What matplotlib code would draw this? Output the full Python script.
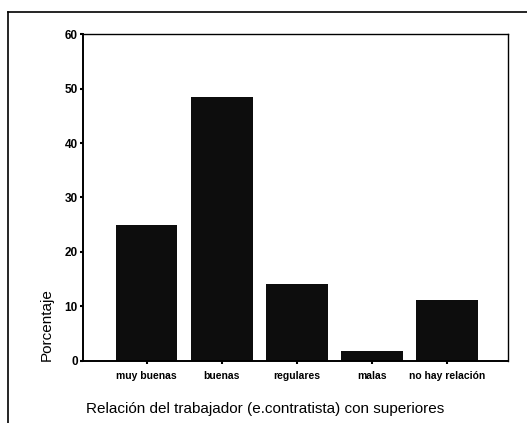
import matplotlib
matplotlib.use('Agg')
import matplotlib.pyplot as plt
from matplotlib.lines import Line2D

categories = ['muy buenas', 'buenas', 'regulares', 'malas', 'no hay relación']
percentages = [24.9, 48.4, 14.2, 1.9, 11.2]
y_ticks = [0, 10, 20, 30, 40, 50, 60]

plt.rcParams['font.family'] = ['Liberation Sans', 'DejaVu Sans']

fig = plt.figure(figsize=(5.27, 4.23), dpi=100)
ax = fig.add_axes([0.1584, 0.1466, 0.8055, 0.773])

x = range(len(categories))
ax.bar(x, percentages, width=0.82, color='#0d0d0d', edgecolor='none')

ax.set_xlim(-0.84, 4.81)
ax.set_ylim(0, 60)
ax.set_yticks(y_ticks)
ax.set_yticklabels([str(v) for v in y_ticks], fontsize=8.5, fontweight='bold')
ax.set_xticks(list(x))
ax.set_xticklabels(categories, fontsize=7.5, fontweight='bold')
ax.tick_params(axis='y', length=2, width=1.5, pad=2)
ax.tick_params(axis='x', length=2, width=1.5, pad=5)

for side in ['left', 'bottom', 'top', 'right']:
    ax.spines[side].set_linewidth(1.0)
ax.spines['left'].set_linewidth(1.4)
ax.spines['bottom'].set_linewidth(1.4)

ax.set_xlabel('Relación del trabajador (e.contratista) con superiores', fontsize=11)
ax.xaxis.set_label_coords(0.4276, -0.125)
ax.set_ylabel('Porcentaje', fontsize=11)
ax.yaxis.set_label_coords(-0.07, 0.11)

# outer frame lines along the top and left of the figure
fig.add_artist(Line2D([8 / 527, 1.0], [1 - 12 / 423, 1 - 12 / 423], color='black', linewidth=1.2))
fig.add_artist(Line2D([8 / 527, 8 / 527], [0.0, 1 - 12 / 423], color='black', linewidth=1.2))

fig.savefig('out.png', dpi=100)
